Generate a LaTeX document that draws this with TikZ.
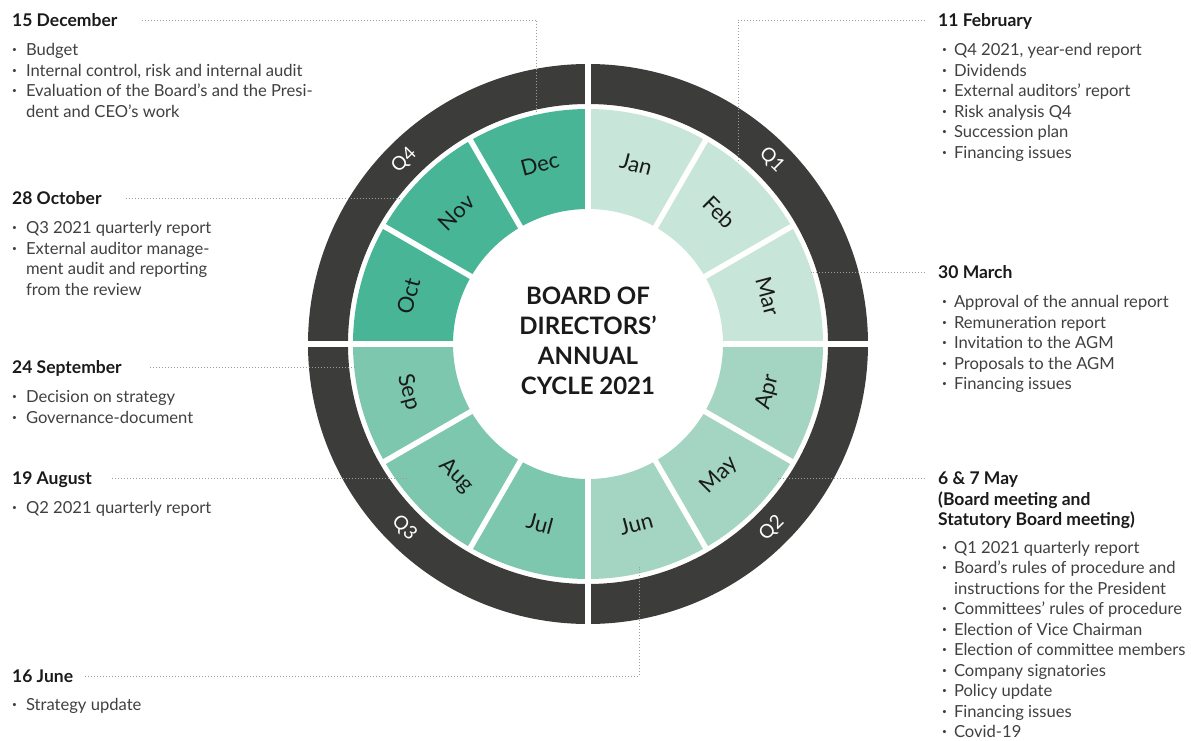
\documentclass[tikz,border=0pt]{standalone}
\usepackage{fontspec}
\setmainfont{Lato}
\usepackage{graphicx}
\usetikzlibrary{positioning,calc}
\definecolor{qa}{HTML}{C8E5D9}
\definecolor{qb}{HTML}{A4D4C2}
\definecolor{qc}{HTML}{7DC7AE}
\definecolor{qd}{HTML}{47B596}
\definecolor{ring}{HTML}{3C3C3B}
\definecolor{leadgray}{HTML}{9C9C9C}
\definecolor{bodytext}{HTML}{404040}
\definecolor{hdtext}{HTML}{1A1A1A}
\newcommand\bul{\raisebox{.35ex}{\scalebox{.5}{\textbullet}}}
\tikzset{
  hd/.style={inner sep=0pt,anchor=west,text height=13pt,text depth=0pt,
    font=\fontsize{17.5}{20.5}\selectfont\bfseries,text=hdtext},
  lst/.style={inner sep=0pt,font=\fontsize{16.6}{20.5}\selectfont,text=bodytext},
  lead/.style={draw=leadgray,line width=1pt,dash pattern=on 1pt off 2pt},
  mon/.style={font=\fontsize{22}{26}\selectfont,text=hdtext},
  qtr/.style={font=\fontsize{19}{22}\selectfont,text=white},
}

\begin{document}
\begin{tikzpicture}[x=1pt,y=1pt]
\useasboundingbox (-588,-396) rectangle (603,344);
\fill[ring,even odd rule] (0,0) circle[radius=280] circle[radius=240];
\foreach \a in {0,90,180,270}
  \draw[white,line width=5.5pt] (\a:236) -- (\a:284);
\foreach \m/\c/\r [count=\i] in {Jan/qa/-15,Feb/qa/-45,Mar/qa/-75,Apr/qb/75,May/qb/45,Jun/qb/15,Jul/qc/-15,Aug/qc/-45,Sep/qc/-75,Oct/qd/75,Nov/qd/45,Dec/qd/15}{
  \pgfmathsetmacro\a{120-30*\i}
  \fill[\c] (\a:135) arc[start angle=\a,end angle=\a-30,radius=135]
    -- (\a-30:235) arc[start angle=\a-30,end angle=\a,radius=235] -- cycle;
  \node[mon,rotate=\r] (m\i) at (\a-15:186) {\m};
}
\foreach \a in {0,30,...,330}
  \draw[white,line width=5.5pt] (\a:130) -- (\a:238);
\foreach \q/\a/\r [count=\i] in {Q1/45/-45,Q2/-45/45,Q3/225/-45,Q4/135/45}
  \node[qtr,rotate=\r] (q\i) at (\a:260) {\q};
\node[align=center,font=\fontsize{24}{30}\selectfont\bfseries,text=hdtext] (title) at (0,3)
  {BOARD OF\\DIRECTORS'\\ANNUAL\\CYCLE 2021};

\node[hd] (hdec) at (-576,324) {15 December};
\node[lst,below right=14.5pt and 0pt of hdec.south west] (ldec) {\begin{tabular}[t]{@{}l@{\hspace{9pt}}l@{}}
\bul & Budget\\
\bul & Internal control, risk and internal audit\\
\bul & Evaluation of the Board's and the Presi-\\
 & dent and CEO's work
\end{tabular}};
\node[hd] (hoct) at (-576,146) {28 October};
\node[lst,below right=14.5pt and 0pt of hoct.south west] (loct) {\begin{tabular}[t]{@{}l@{\hspace{9pt}}l@{}}
\bul & Q3 2021 quarterly report\\
\bul & External auditor manage-\\
 & ment audit and reporting\\
 & from the review
\end{tabular}};
\node[hd] (hsep) at (-576,-23) {24 September};
\node[lst,below right=14.5pt and 0pt of hsep.south west] (lsep) {\begin{tabular}[t]{@{}l@{\hspace{9pt}}l@{}}
\bul & Decision on strategy\\
\bul & Governance-document
\end{tabular}};
\node[hd] (haug) at (-576,-134) {19 August};
\node[lst,below right=14.5pt and 0pt of haug.south west] (laug) {\begin{tabular}[t]{@{}l@{\hspace{9pt}}l@{}}
\bul & Q2 2021 quarterly report
\end{tabular}};
\node[hd] (hjun) at (-576,-332) {16 June};
\node[lst,below right=13pt and 0pt of hjun.south west] (ljun) {\begin{tabular}[t]{@{}l@{\hspace{9pt}}l@{}}
\bul & Strategy update
\end{tabular}};

\node[hd] (hfeb) at (350,324) {11 February};
\node[lst,below right=14.5pt and 4pt of hfeb.south west] (lfeb) {\begin{tabular}[t]{@{}l@{\hspace{7pt}}l@{}}
\bul & Q4 2021, year-end report\\
\bul & Dividends\\
\bul & External auditors' report\\
\bul & Risk analysis Q4\\
\bul & Succession plan\\
\bul & Financing issues
\end{tabular}};
\node[hd] (hmar) at (350,72) {30 March};
\node[lst,below right=14.5pt and 4pt of hmar.south west] (lmar) {\begin{tabular}[t]{@{}l@{\hspace{7pt}}l@{}}
\bul & Approval of the annual report\\
\bul & Remuneration report\\
\bul & Invitation to the AGM\\
\bul & Proposals to the AGM\\
\bul & Financing issues
\end{tabular}};
\node[hd] (hmay) at (350,-134) {6 \& 7 May};
\node[hd,below right=7.3pt and 0pt of hmay.south west] (hmayb) {(Board meeting and};
\node[hd,below right=7.3pt and 0pt of hmayb.south west] (hmayc) {Statutory Board meeting)};
\node[lst,below right=12.5pt and 4pt of hmayc.south west] (lmay) {\begin{tabular}[t]{@{}l@{\hspace{7pt}}l@{}}
\bul & Q1 2021 quarterly report\\
\bul & Board's rules of procedure and\\
 & instructions for the President\\
\bul & Committees' rules of procedure\\
\bul & Election of Vice Chairman\\
\bul & Election of committee members\\
\bul & Company signatories\\
\bul & Policy update\\
\bul & Financing issues\\
\bul & Covid-19
\end{tabular}};

\coordinate (cdec) at (102.5:236);
\coordinate (coct) at (142:237);
\coordinate (csep) at (185.6:235);
\coordinate (caug) at (216.7:224);
\coordinate (cjun) at (-77:229);
\coordinate (cfeb) at (50.5:236);
\coordinate (cmar) at (17.9:234);
\coordinate (cmay) at (-35.2:232);
\draw[lead] ([xshift=24pt]hdec.east) -| (cdec);
\draw[lead] ([xshift=24pt]hoct.east) -- (hoct.east -| coct);
\draw[lead] ([xshift=28pt]hsep.east) -- (hsep.east -| csep);
\draw[lead] ([xshift=20pt]haug.east) -- (haug.east -| caug);
\draw[lead] ([xshift=12pt]hjun.east) -| (cjun);
\draw[lead] ([xshift=-13pt]hfeb.west) -| (cfeb);
\draw[lead] ([xshift=-13pt]hmar.west) -- (hmar.west -| cmar);
\draw[lead] ([xshift=-13pt]hmay.west) -- (hmay.west -| cmay);
\end{tikzpicture}
\end{document}
